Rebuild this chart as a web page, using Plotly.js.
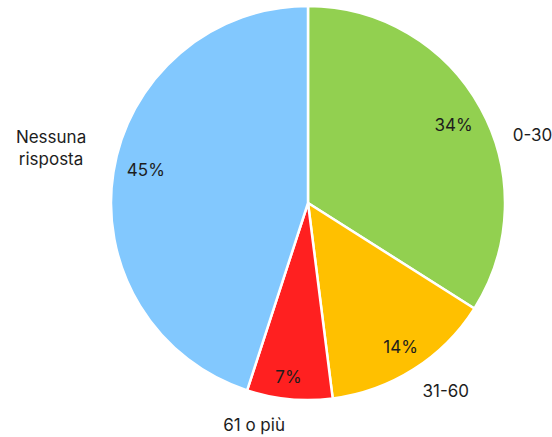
<!DOCTYPE html>
<html><head><meta charset="utf-8">
<script src="https://cdn.plot.ly/plotly-3.0.1.min.js"></script>
<style>html,body{margin:0;padding:0;background:#fff}</style>
</head><body><div id="chart" style="width:552px;height:437px"></div>
<script>
const categories = ["0-30", "31-60", "61 o più", "Nessuna<br>risposta"];
const values = [34, 14, 7, 45];
const colors = ["#92d050", "#ffc000", "#ff2020", "#82c8fe"];

const W = 552, H = 437;
const FONT = "Inter, 'Noto Sans', sans-serif";
const TXT = "#1d1d1d";
const clear = categories.map(() => "rgba(0,0,0,0)");

// domain helper: centre (cx, cy) and radius r in page pixels
function dom(cx, cy, r) {
  return {x: [(cx - r) / W, (cx + r) / W], y: [(H - cy - r) / H, (H - cy + r) / H]};
}
const base = {
  type: "pie", labels: categories, values: values, sort: false,
  direction: "clockwise", hoverinfo: "none", automargin: false
};
// transparent helper trace showing only the slices listed in `show`
function textTrace(show, kind, cx, cy, r, rot, hole) {
  const pos = categories.map((c, i) => show.includes(i) ? kind : "none");
  const t = Object.assign({}, base, {
    rotation: rot, domain: dom(cx, cy, r),
    marker: {colors: clear, line: {width: 0}},
    textposition: pos
  });
  if (kind === "inside") {
    t.hole = hole; t.textinfo = "percent"; t.insidetextorientation = "horizontal";
    t.insidetextfont = {family: FONT, size: 17, color: TXT};
  } else {
    t.textinfo = "label";
    t.outsidetextfont = {family: FONT, size: 17, color: TXT};
  }
  return t;
}
const data = [
  Object.assign({}, base, {
    rotation: 0, domain: dom(308, 203, 197),
    marker: {colors: colors, line: {color: "#ffffff", width: 2.5}},
    textinfo: "none"
  }),
  textTrace([0], "inside", 308, 203, 197, 0.5, 0.68),
  textTrace([3], "inside", 308, 203, 197, 2.5, 0.68),
  textTrace([1], "inside", 308, 203, 197, -0.3, 0.74),
  textTrace([2], "inside", 308, 203, 197, 1, 0.78),
  textTrace([0], "outside", 310.5, 211.5, 211, 8),
  textTrace([3], "outside", 298.5, 211.5, 211, 8),
  textTrace([1], "outside", 314.5, 230.8, 184.6, -1.5),
  textTrace([2], "outside", 302.5, 230.8, 184.6, -1.5)
];
const layout = {
  width: W, height: H, showlegend: false,
  margin: {l: 0, r: 0, t: 0, b: 0, pad: 0},
  paper_bgcolor: "#fff", plot_bgcolor: "#fff"
};
Plotly.newPlot("chart", data, layout, {staticPlot: true});
</script></body></html>
